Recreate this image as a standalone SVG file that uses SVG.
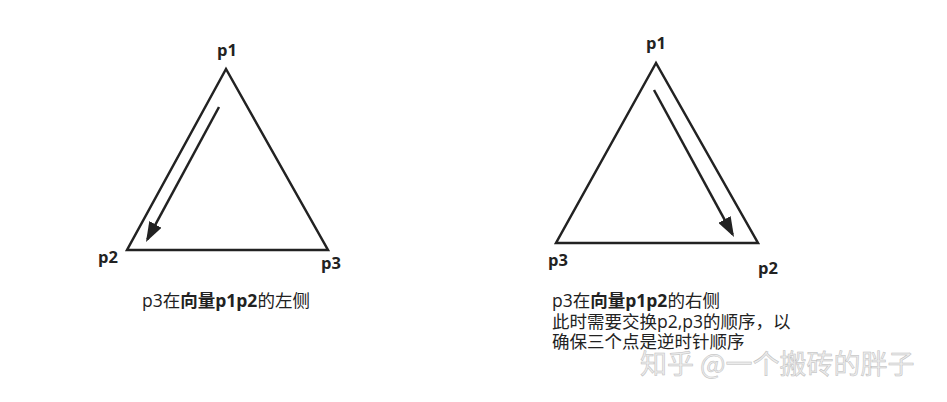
<svg xmlns="http://www.w3.org/2000/svg" width="947" height="402" viewBox="0 0 947 402">
<style>
.tri{fill:none;stroke:#222;stroke-width:2.5;stroke-linejoin:miter}
.vec{fill:none;stroke:#222;stroke-width:2.5}
.lbl{font-family:"Open Sans","Noto Sans",sans-serif;font-weight:bold;font-size:16.5px;fill:#222}
.cap{font-family:"Open Sans","Noto Sans CJK SC",sans-serif;font-size:17.5px;fill:#222}
.b{font-weight:bold}
.wm{font-family:"Noto Sans CJK SC",sans-serif;font-size:27px;fill:#ececec;stroke:#bdbdbd;stroke-width:0.5}
</style>
<defs>
<marker id="ah" viewBox="0 0 20 14" refX="17" refY="7" markerWidth="8" markerHeight="5.6" orient="auto" markerUnits="strokeWidth">
<path d="M0,0 L20,7 L0,14 z" fill="#222"/>
</marker>
</defs>
<rect width="947" height="402" fill="#fff"/>
<g id="left-triangle">
<polygon class="tri" points="226,69 127,250 328,250"/>
<text class="lbl" x="227" y="56" text-anchor="middle">p1</text>
<text class="lbl" x="108" y="263" text-anchor="middle">p2</text>
<text class="lbl" x="331" y="269" text-anchor="middle">p3</text>
</g>
<g id="right-triangle">
<polygon class="tri" points="656,63 556,243 758,243"/>
<text class="lbl" x="656" y="49" text-anchor="middle">p1</text>
<text class="lbl" x="558" y="266" text-anchor="middle">p3</text>
<text class="lbl" x="768" y="274" text-anchor="middle">p2</text>
</g>
<g id="connectors">
<line class="vec" x1="219" y1="107" x2="147.4" y2="239.4" marker-end="url(#ah)"/>
<line class="vec" x1="654" y1="90" x2="732.6" y2="234.4" marker-end="url(#ah)"/>
</g>
<g id="captions">
<text class="cap" x="142" y="307">p3在<tspan class="b">向量p1p2</tspan>的左侧</text>
<text class="cap" x="552" y="307">p3在<tspan class="b">向量p1p2</tspan>的右侧</text>
<text class="cap" x="552" y="327.5">此时需要交换p2,p3的顺序，以</text>
<text class="cap" x="552" y="348">确保三个点是逆时针顺序</text>
</g>
<g id="watermark">
<text class="wm" x="640" y="374">知乎 @一个搬砖的胖子</text>
</g>
</svg>
